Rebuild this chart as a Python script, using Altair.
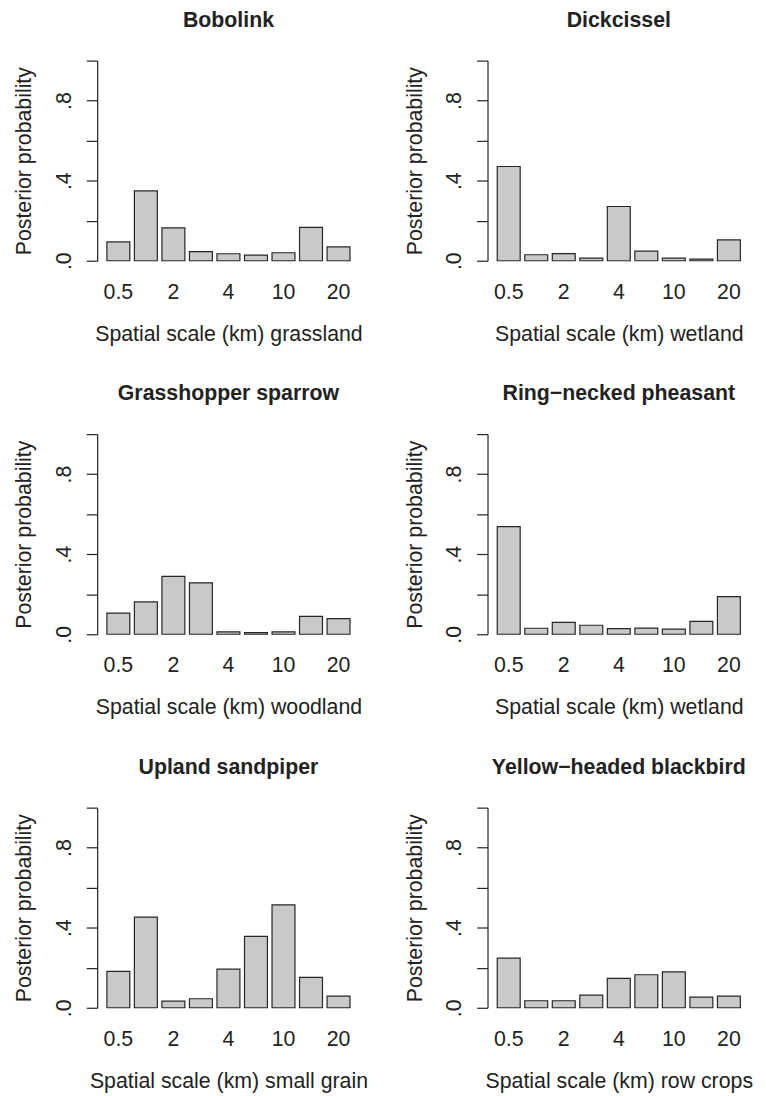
import altair as alt
import pandas as pd

# ---- data ----
species = ["Bobolink", "Dickcissel", "Grasshopper sparrow",
           "Ring−necked pheasant", "Upland sandpiper", "Yellow−headed blackbird"]
landcover = ["grassland", "wetland", "woodland", "wetland", "small grain", "row crops"]
bar_ids = [1, 2, 3, 4, 5, 6, 7, 8, 9]
scale_labels = ["0.5", "", "2", "", "4", "", "10", "", "20"]

prob_bobolink = [0.094, 0.349, 0.164, 0.046, 0.035, 0.028, 0.040, 0.167, 0.069]
prob_dickcissel = [0.471, 0.030, 0.036, 0.013, 0.271, 0.048, 0.013, 0.008, 0.104]
prob_grasshopper = [0.106, 0.162, 0.289, 0.257, 0.012, 0.008, 0.012, 0.089, 0.078]
prob_pheasant = [0.538, 0.030, 0.059, 0.045, 0.028, 0.031, 0.026, 0.064, 0.188]
prob_sandpiper = [0.182, 0.453, 0.033, 0.045, 0.193, 0.357, 0.514, 0.152, 0.058]
prob_blackbird = [0.248, 0.035, 0.035, 0.063, 0.147, 0.165, 0.179, 0.053, 0.058]
all_probs = [prob_bobolink, prob_dickcissel, prob_grasshopper,
             prob_pheasant, prob_sandpiper, prob_blackbird]

y_tick_values = [0.0, 0.2, 0.4, 0.6, 0.8, 1.0]
y_tick_labels = [".0", "", ".4", "", ".8", ""]

# ---- style ----
FONT = "Liberation Sans"
FS = 21.5
INK = "#222222"
W = 265
H = 202

x_shown = [b for b, l in zip(bar_ids, scale_labels) if l]
x_label_expr = " : ".join(
    f"datum.value == {b} ? '{l}'" for b, l in zip(bar_ids, scale_labels) if l
) + " : ''"
y_label_expr = " : ".join(
    f"abs(datum.value - {v}) < 0.001 ? '{l}'" for v, l in zip(y_tick_values, y_tick_labels) if l
) + " : ''"


def panel(name, land, values):
    df = pd.DataFrame({"bar": bar_ids, "prob": values})
    return (
        alt.Chart(df)
        .mark_bar(fill="#c8c9cb", stroke="#262626", strokeWidth=1.2)
        .encode(
            x=alt.X(
                "bar:O",
                scale=alt.Scale(paddingInner=1 / 6, paddingOuter=0.353),
                axis=alt.Axis(
                    values=x_shown,
                    labelExpr=x_label_expr,
                    labelAngle=0,
                    domain=False,
                    ticks=False,
                    tickSize=0,
                    labelPadding=32,
                    labelBaseline="middle",
                    labelAlign="center",
                    labelFont=FONT,
                    labelFontSize=FS,
                    labelColor=INK,
                    labelOverlap=False,
                    title=f"Spatial scale (km) {land}",
                    titleFont=FONT,
                    titleFontSize=FS,
                    titleFontWeight="normal",
                    titleColor=INK,
                    titleX=W / 2,
                    titleY=74,
                    titleAlign="center",
                    titleBaseline="middle",
                ),
            ),
            y=alt.Y(
                "prob:Q",
                scale=alt.Scale(domain=[0, 1], nice=False, zero=True),
                axis=alt.Axis(
                    values=y_tick_values,
                    labelExpr=y_label_expr,
                    labelAngle=270,
                    labelAlign="center",
                    labelBaseline="middle",
                    labelPadding=22,
                    tickSize=11,
                    tickColor=INK,
                    tickWidth=1.2,
                    domainColor=INK,
                    domainWidth=1.2,
                    grid=False,
                    labelFont=FONT,
                    labelFontSize=FS,
                    labelColor=INK,
                    labelOverlap=False,
                    title="Posterior probability",
                    titleFont=FONT,
                    titleFontSize=FS,
                    titleFontWeight="normal",
                    titleColor=INK,
                    titleAngle=270,
                    titleX=-73,
                    titleY=H / 2,
                    titleAlign="center",
                    titleBaseline="middle",
                ),
            ),
        )
        .properties(
            width=W,
            height=H,
            title=alt.TitleParams(
                text=name,
                font=FONT,
                fontSize=FS,
                fontWeight="bold",
                color=INK,
                anchor="middle",
                baseline="middle",
                offset=18,
            ),
        )
    )


panels = [panel(n, l, v) for n, l, v in zip(species, landcover, all_probs)]

chart = (
    alt.concat(*panels, columns=2, spacing={"row": 175, "column": 129}, bounds="flush")
    .properties(padding={"left": 6, "top": -4, "right": 5, "bottom": 5}, background="white")
    .configure_view(stroke=None)
)

chart.save("out.html", embed_options={"renderer": "svg", "actions": False})
